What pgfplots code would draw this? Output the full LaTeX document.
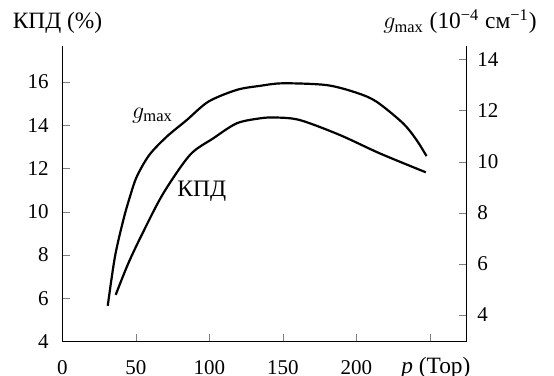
\documentclass[border=0pt]{standalone}
\usepackage{fontspec}
\setmainfont{Liberation Serif}
\usepackage{pgfplots}
\pgfplotsset{compat=1.18}
\begin{document}
\fontsize{10.5}{12}\selectfont
\begin{tikzpicture}
\pgfplotsset{
  common/.style={
    scale only axis, width=202.2pt, height=147.85pt,
    at={(0,0)}, anchor=south west,
    xmin=0, xmax=275,
    tick align=inside, major tick length=4pt,
    /pgf/number format/assume math mode=true,
    tick label style={font=\fontsize{10.5}{12}\selectfont},
    every axis plot/.append style={line width=1.1pt, black},
  }
}
\begin{axis}[common,
  axis x line*=bottom, axis y line*=left,
  xtick pos=bottom, ytick pos=left,
  x axis line style={-, line width=0.7pt},
  y axis line style={-, line width=0.7pt},
  xtick={0,50,100,150,200,250}, xticklabels={0,50,100,150,200,{}},
  ymin=4, ymax=17.65, ytick={4,6,8,10,12,14,16},
  xticklabel style={yshift=-5.6pt},
  yticklabel style={xshift=-3.2pt},
]
\addplot[smooth, tension=0.5] coordinates {
(36.3,6.16) (44.9,7.62) (55.1,9.08) (68.7,10.85) (86.8,12.62) (102.7,13.39)
(118.6,14.08) (134.4,14.31) (145,14.35) (161.6,14.23) (188.8,13.54) (216.0,12.69) (247.2,11.82)};
\node[font=\fontsize{11.8}{13}\selectfont] at (axis cs:61.4,14.44) {$g_{\max}$};
\node[font=\fontsize{11.8}{13}\selectfont] at (axis cs:94.8,10.93) {КПД};
\end{axis}
\begin{axis}[common,
  hide x axis,
  axis y line*=right, ytick pos=right,
  y axis line style={-, line width=0.7pt},
  ymin=2.955, ymax=14.53, ytick={4,6,8,10,12,14},
  yticklabel style={xshift=1.7pt},
]
\addplot[smooth, tension=0.5] coordinates {
(30.9,4.36) (35.8,6.28) (41.5,7.72) (46.0,8.63) (50.6,9.41) (59.1,10.26)
(71.0,10.98) (84.6,11.63) (99.3,12.35) (118.5,12.81) (134.4,12.97) (150.2,13.07)
(179.7,13.00) (200.1,12.70) (213.7,12.35) (231.8,11.50) (240.9,10.85) (247.7,10.22)};
\end{axis}
\begin{scope}[every node/.style={inner sep=0, font=\fontsize{11.7}{13}\selectfont}]
\node[anchor=base west] at (-24.95pt,156.35pt) {КПД (\%)};
\node[anchor=base east] at (237.35pt,156.35pt) {$g_{\max}$ (10\textsuperscript{−4} см\textsuperscript{−1})};
\node[anchor=base west] at (169.35pt,-16.15pt) {\textit{p} (Тор)};
\end{scope}
\pgfresetboundingbox
\path[use as bounding box] (-31.15pt,-17.15pt) rectangle (245.85pt,170.85pt);
\end{tikzpicture}
\end{document}
